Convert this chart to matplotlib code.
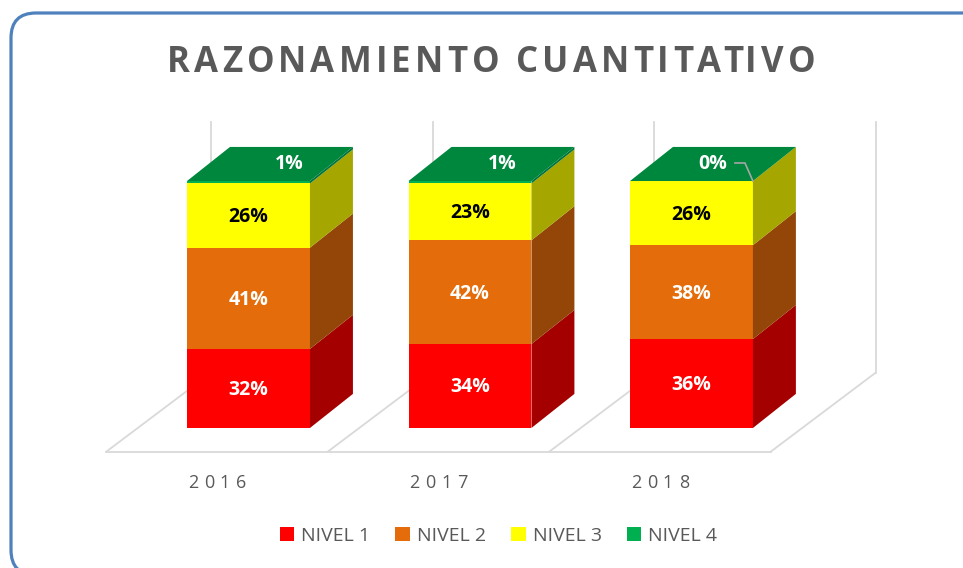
import matplotlib
matplotlib.use("Agg")
import matplotlib.pyplot as plt
from matplotlib.patches import Polygon, FancyBboxPatch
from matplotlib.transforms import IdentityTransform
from matplotlib.font_manager import FontProperties
import numpy as np

years = ["2016", "2017", "2018"]
levels = ["NIVEL 1", "NIVEL 2", "NIVEL 3", "NIVEL 4"]
nivel1 = [32, 34, 36]
nivel2 = [41, 42, 38]
nivel3 = [26, 23, 26]
nivel4 = [1, 1, 0]

front_colors = ["#FF0000", "#E46C0A", "#FFFF00", "#00B050"]
side_colors = ["#A50000", "#934607", "#A6A600", "#00733A"]
top_color = "#00873E"
label_colors = ["white", "white", "black", "white"]
grey = "#595959"
line_grey = "#D9D9D9"

W, H = 963, 568
fig = plt.figure(figsize=(W / 100, H / 100), dpi=100)
ax = fig.add_axes([0, 0, 1, 1])
ax.set_xlim(-1.122, 3.226)
ax.set_ylim(-56.7, 173.3)
ax.axis("off")

x = np.arange(len(years))
bw = 0.555          # bar width (category units)
dx, dy = 0.194, 13.8     # bar depth offset
fdx, fdy = 0.474, 32.0   # floor depth offset
front_frac = 0.3         # bar front plane as fraction of floor depth
wall_top = 124

# floor + back walls
fx0 = -0.5 - front_frac * fdx
fy = -front_frac * fdy
n = len(years)
ax.plot([fx0, fx0 + n], [fy, fy], color=line_grey, lw=1.3, zorder=1)
for k in range(n + 1):
    ax.plot([fx0 + k, fx0 + k + fdx], [fy, fy + fdy], color=line_grey, lw=1.3, zorder=1)
    ax.plot([fx0 + k + fdx] * 2, [fy + fdy, wall_top], color=line_grey, lw=1.3, zorder=1)

series = [nivel1, nivel2, nivel3, nivel4]
bottoms = np.zeros(n)
for vals, fc, sc, lab, tc in zip(series, front_colors, side_colors, levels, label_colors):
    vals = np.array(vals, dtype=float)
    ax.bar(x, vals, width=bw, bottom=bottoms, color=fc, label=lab, linewidth=0, zorder=3)
    for i in range(n):
        b, v = bottoms[i], vals[i]
        r = x[i] + bw / 2
        ax.add_patch(Polygon([(r, b), (r + dx, b + dy), (r + dx, b + v + dy), (r, b + v)],
                             closed=True, facecolor=sc, edgecolor="none", zorder=3))
        if lab != levels[-1]:
            ax.text(x[i], b + v / 2 - 0.6, f"{int(v)}%", ha="center", va="center", color=tc,
                    fontsize=14, fontweight="bold", family="Open Sans", zorder=5)
    bottoms += vals

# top faces and the NIVEL 4 labels sitting on them
top_label_shift = [0.185, 0.145, 0.097]
for i in range(n):
    t = bottoms[i]
    l, r = x[i] - bw / 2, x[i] + bw / 2
    ax.add_patch(Polygon([(l, t), (l + dx, t + dy), (r + dx, t + dy), (r, t)],
                         closed=True, facecolor=top_color, edgecolor="none", zorder=4))
    ax.text(x[i] + top_label_shift[i], t + dy / 2, f"{nivel4[i]}%", ha="center", va="center",
            color="white", fontsize=14, fontweight="bold", family="Open Sans", zorder=5)
    if nivel4[i] == 0:
        ax.plot([r - 0.081, r - 0.036, r], [t + dy / 2 + 0.4, t + dy / 2 + 0.4, t],
                color="#A6A6A6", lw=1.2, zorder=5)

renderer = fig.canvas.get_renderer()


def spaced_text(xc, yb, s, target_w, fp, color):
    # matplotlib has no letter spacing, so place characters one by one
    def tw(txt):
        return renderer.get_text_width_height_descent(txt, fp, ismath=False)[0]
    ref = tw("I")
    pos = [tw(s[:i] + "I") - ref for i in range(len(s))]
    natural = tw(s + "I") - ref
    track = (target_w - natural) / (len(s) - 1)
    start = xc - target_w / 2
    for i, ch in enumerate(s):
        fig.text((start + pos[i] + i * track) / W, yb / H, ch, ha="left", va="baseline",
                 fontproperties=fp, color=color)


title_fp = FontProperties(family="Open Sans", weight="bold", size=25)
spaced_text(491, H - 72, "RAZONAMIENTO CUANTITATIVO", 648, title_fp, grey)

cat_fp = FontProperties(family="Open Sans", size=13)
for i, yr in enumerate(years):
    cx = ax.transData.transform((fx0 + i + 0.5, 0))[0]
    spaced_text(cx, H - 488, yr, 58, cat_fp, grey)

fig.legend(loc="center", bbox_to_anchor=(498.5 / W, 1 - 536 / H), ncol=4, frameon=False,
           prop=FontProperties(family="Open Sans", size=14), labelcolor=grey,
           handlelength=0.75, handleheight=0.75, handletextpad=0.35, columnspacing=1.3)

frame = FancyBboxPatch((11, -7), 985, 562, boxstyle="round,pad=0,rounding_size=25",
                       transform=IdentityTransform(), fill=False, edgecolor="#4F81BD", lw=2.3)
fig.add_artist(frame)

fig.savefig("out.png", dpi=100)
